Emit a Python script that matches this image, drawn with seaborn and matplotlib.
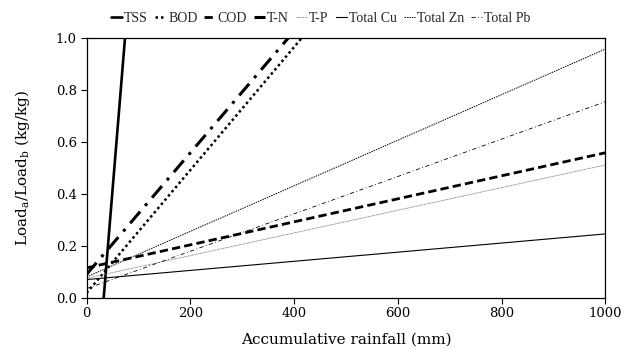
import pandas as pd
import matplotlib
matplotlib.use("Agg")
import matplotlib.pyplot as plt
import seaborn as sns

# rainfall endpoints (mm) and fitted load ratio at each end
rain = [0, 1000]
series = ["TSS", "BOD", "COD", "T-N", "T-P", "Total Cu", "Total Zn", "Total Pb"]
tss = [-0.805, 23.59]
bod = [0.018, 2.39]
cod = [0.115, 0.559]
tn = [0.09, 2.435]
tp = [0.075, 0.512]
cu = [0.07, 0.246]
zn = [0.08, 0.959]
pb = [0.035, 0.756]

rows = []
for name, vals in zip(series, [tss, bod, cod, tn, tp, cu, zn, pb]):
    for x, y in zip(rain, vals):
        rows.append({"rain": x, "ratio": y, "param": name})
df = pd.DataFrame(rows)

sns.set_theme(style="white")
plt.rcParams["font.family"] = ["DejaVu Serif"]
plt.rcParams["mathtext.default"] = "regular"

styles = {
    "TSS": dict(ls="-", lw=1.9, color="black"),
    "BOD": dict(ls=(0, (1, 1.2)), lw=1.8, color="black"),
    "COD": dict(ls=(0, (3, 1.5)), lw=2.0, color="black"),
    "T-N": dict(ls=(0, (5, 2.5, 1, 2.5)), lw=2.2, color="black"),
    "T-P": dict(ls=(0, (1, 0.6)), lw=0.6, color="#777777"),
    "Total Cu": dict(ls="-", lw=0.8, color="black"),
    "Total Zn": dict(ls=(0, (1.5, 1)), lw=0.7, color="black"),
    "Total Pb": dict(ls=(0, (5, 3, 1, 3)), lw=0.6, color="black"),
}

fig = plt.figure(figsize=(6.32, 3.49), dpi=100)
ax = fig.add_axes([0.137, 0.147, 0.821, 0.743])

for name in series:
    st = styles[name]
    sns.lineplot(data=df[df["param"] == name], x="rain", y="ratio", ax=ax,
                 color=st["color"], linewidth=st["lw"], linestyle=st["ls"],
                 label=name)

ax.set_xlim(0, 1000)
ax.set_ylim(0, 1.0)
ax.set_xticks([0, 200, 400, 600, 800, 1000])
ax.set_yticks([0.0, 0.2, 0.4, 0.6, 0.8, 1.0])
ax.set_yticklabels(["0.0", "0.2", "0.4", "0.6", "0.8", "1.0"])
ax.tick_params(axis="both", direction="out", length=4, width=0.8,
               labelsize=9.5, colors="black", bottom=True, left=True, pad=3)
for sp in ax.spines.values():
    sp.set_color("black")
    sp.set_linewidth(0.9)

ax.set_xlabel("Accumulative rainfall (mm)", fontsize=11, color="black",
              labelpad=9)
ax.set_ylabel("Load$_a$/Load$_b$ (kg/kg)", fontsize=11, color="black",
              labelpad=17)

leg = ax.legend(loc="lower left", bbox_to_anchor=(0.02, 1.0), ncol=8,
                frameon=False, handlelength=0.8, handletextpad=0.15,
                columnspacing=0.5, borderaxespad=0.6,
                prop={"family": "Liberation Serif", "size": 10})

fig.savefig("out.png", dpi=100)
